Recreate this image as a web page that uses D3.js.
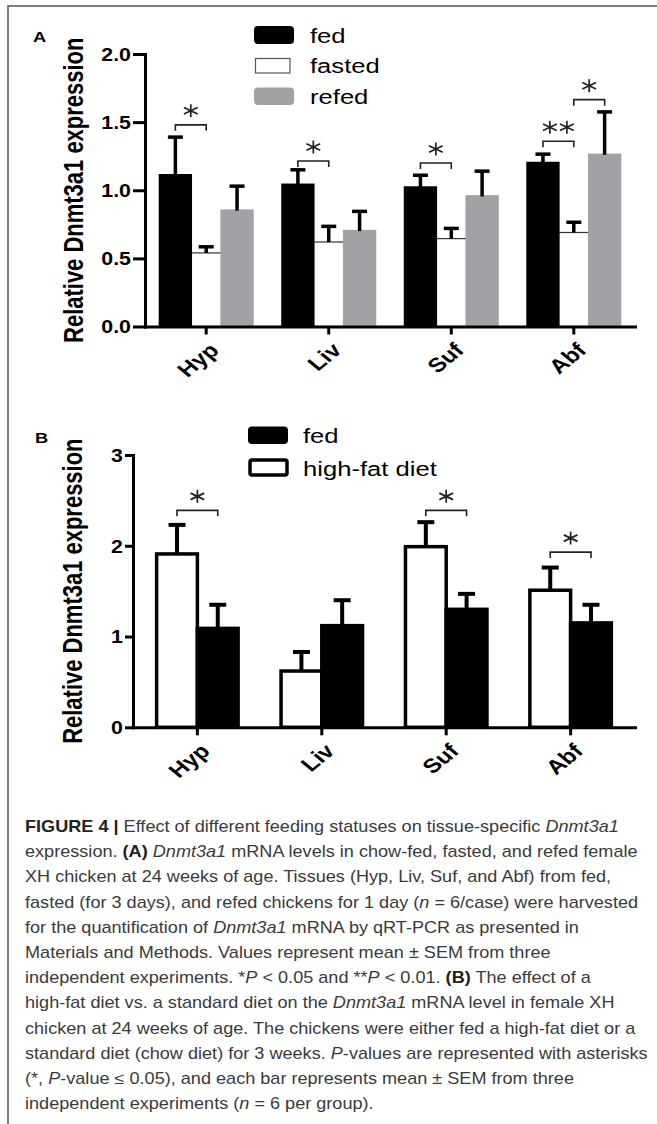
<!DOCTYPE html>
<html>
<head>
<meta charset="utf-8">
<script src="https://cdn.jsdelivr.net/npm/d3@7"></script>
<style>
  body { margin: 0; background: #fff; }
  svg { display: block; }
</style>
</head>
<body>
<div id="chart"></div>
<script>
// ---- data ----
const tissues = ["Hyp", "Liv", "Suf", "Abf"];

// panel A: fed / fasted / refed
const seriesA = ["fed", "fasted", "refed"];
const fedA = [1.11, 1.04, 1.02, 1.20];
const fedASem = [0.28, 0.11, 0.09, 0.065];
const fastedA = [0.54, 0.62, 0.645, 0.69];
const fastedASem = [0.045, 0.115, 0.075, 0.075];
const refedA = [0.85, 0.70, 0.955, 1.26];
const refedASem = [0.18, 0.145, 0.185, 0.315];
const ticksA = [0, 0.5, 1.0, 1.5, 2.0];
// brackets: tissue, bar index from/to, height (data units), stars
const sigA = [
  ["Hyp", 0, 1, 1.48, 1],
  ["Liv", 0, 1, 1.215, 1],
  ["Suf", 0, 1, 1.20, 1],
  ["Abf", 0, 1, 1.36, 2],
  ["Abf", 1, 2, 1.665, 1]
];

// panel B: legend order is fed / high-fat diet, bars drawn white first
const legendB = ["fed", "high-fat diet"];
const hfdB = [1.91, 0.62, 1.99, 1.51];
const hfdBSem = [0.32, 0.21, 0.27, 0.25];
const fedB = [1.09, 1.12, 1.30, 1.15];
const fedBSem = [0.26, 0.28, 0.17, 0.20];
const ticksB = [0, 1, 2, 3];
const sigB = [
  ["Hyp", 0, 1, 2.39, 1],
  ["Suf", 0, 1, 2.39, 1],
  ["Abf", 0, 1, 1.93, 1]
];

const W = 657, H = 1124;
const SX = 1.22;   // the chart image is a bit stretched sideways
const chartFont = "'Liberation Sans', Arial, Helvetica, sans-serif";

const svg = d3.select("#chart").append("svg")
    .attr("width", W)
    .attr("height", H);

svg.append("rect").attr("width", W).attr("height", H).attr("fill", "#fff");

// frame of the figure
svg.append("path")
    .attr("d", "M8," + H + "V6H" + W)
    .attr("fill", "none")
    .attr("stroke", "#555")
    .attr("stroke-width", 1.5);

// text squeezed/stretched like the picture
function sText(g, x, y, str, size, weight, anchor, rot) {
    return g.append("text")
        .attr("transform", "translate(" + x + "," + y + ") scale(" + SX + ",1)" + (rot ? " rotate(" + rot + ")" : ""))
        .attr("text-anchor", anchor || "start")
        .style("font-family", chartFont)
        .style("font-size", size + "px")
        .style("font-weight", weight || "normal")
        .attr("fill", "#000")
        .text(str);
}

function asterisk(g, cx, cy) {
    let r = 6.5, d = "";
    [90, 30, 150].forEach(function(a) {
        let dx = r * Math.cos(a * Math.PI / 180) * SX;
        let dy = r * Math.sin(a * Math.PI / 180);
        d += "M" + (cx - dx) + "," + (cy - dy) + "L" + (cx + dx) + "," + (cy + dy);
    });
    g.append("path").attr("d", d)
        .attr("stroke", "#222")
        .attr("stroke-width", 1.7)
        .attr("fill", "none");
}

function drawPanel(o) {
    let g = svg.append("g");

    let y = d3.scaleLinear()
        .domain([0, o.yMax])
        .range([o.bottom, o.top]);

    let x = d3.scaleBand()
        .domain(tissues)
        .range([o.left, o.right])
        .paddingInner(o.padIn)
        .paddingOuter(o.padOut);

    let xs = d3.scaleBand()
        .domain(d3.range(o.series.length))
        .range([0, x.bandwidth()]);

    // bars, white ones first so the dark edges sit on top
    let order = d3.range(o.series.length).sort(function(a, b) {
        return (o.series[a].fill === "#fff" ? 0 : 1) - (o.series[b].fill === "#fff" ? 0 : 1);
    });
    order.forEach(function(si) {
        let s = o.series[si];
        g.selectAll(".bar" + si)
            .data(tissues)
            .enter()
            .append("rect")
            .attr("x", function(d) { return x(d) + xs(si); })
            .attr("y", function(d, i) { return y(s.values[i]); })
            .attr("width", xs.bandwidth())
            .attr("height", function(d, i) { return y(0) - y(s.values[i]); })
            .attr("fill", s.fill)
            .attr("stroke", s.stroke)
            .attr("stroke-width", s.strokeWidth);
    });

    // error bars (upper only)
    o.series.forEach(function(s, si) {
        tissues.forEach(function(t, i) {
            let cx = x(t) + xs(si) + xs.bandwidth() / 2;
            let top = y(s.values[i] + s.sem[i]);
            g.append("line")
                .attr("x1", cx).attr("x2", cx)
                .attr("y1", y(s.values[i])).attr("y2", top)
                .attr("stroke", "#000").attr("stroke-width", o.errW);
            g.append("line")
                .attr("x1", cx - o.capW / 2).attr("x2", cx + o.capW / 2)
                .attr("y1", top).attr("y2", top)
                .attr("stroke", "#000").attr("stroke-width", o.errW);
        });
    });

    // y axis
    let ya = g.append("g")
        .attr("transform", "translate(" + o.left + ",0)")
        .call(d3.axisLeft(y).tickValues(o.yTicks).tickFormat(o.fmt).tickSize(o.tickLen).tickSizeOuter(0));
    ya.select(".domain").attr("stroke-width", 3).attr("stroke-linecap", "square");
    ya.selectAll(".tick line").attr("stroke-width", 3);
    ya.selectAll(".tick text")
        .attr("x", null).attr("dy", null)
        .attr("transform", "translate(" + (-o.tickLen - 2) + ",6.3) scale(" + SX + ",1)")
        .style("font-family", chartFont)
        .style("font-size", "17.5px")
        .style("font-weight", "bold")
        .attr("fill", "#000");

    // x axis
    let xa = g.append("g")
        .attr("transform", "translate(0," + y(0) + ")")
        .call(d3.axisBottom(x).tickSize(8).tickSizeOuter(0));
    xa.select(".domain").attr("stroke-width", 3).attr("stroke-linecap", "square");
    xa.selectAll(".tick line").attr("stroke-width", 3);
    xa.selectAll(".tick text")
        .attr("y", null).attr("dy", null)
        .attr("text-anchor", "end")
        .attr("transform", "translate(14,25) scale(" + SX + ",1) rotate(-45)")
        .style("font-family", chartFont)
        .style("font-size", "20px")
        .style("font-weight", "bold")
        .attr("fill", "#000");

    // y title
    sText(g, o.titleX, (o.top + o.bottom) / 2 + o.titleDy, "Relative Dnmt3a1 expression", 22, "bold", "middle", -90);

    // significance brackets
    o.sig.forEach(function(b) {
        let x1 = x(b[0]) + xs(b[1]) + xs.bandwidth() / 2;
        let x2 = x(b[0]) + xs(b[2]) + xs.bandwidth() / 2;
        let by = y(b[3]);
        g.append("path")
            .attr("d", "M" + x1 + "," + (by + 6) + "V" + by + "H" + x2 + "V" + (by + 6))
            .attr("fill", "none")
            .attr("stroke", "#222")
            .attr("stroke-width", 1.6);
        let mid = (x1 + x2) / 2;
        if (b[4] === 1) asterisk(g, mid, by - 14);
        else { asterisk(g, mid - 8.5, by - 14); asterisk(g, mid + 8.5, by - 14); }
    });

    return g;
}

// ---- panel A ----
const gA = drawPanel({
    top: 54, bottom: 326.5, left: 145, right: 635,
    yMax: 2.0, yTicks: ticksA, fmt: d3.format(".1f"),
    padIn: 0.245, padOut: 0.122,
    tickLen: 12, errW: 3.5, capW: 15,
    titleX: 83, titleDy: 0,
    series: [
        { values: fedA, sem: fedASem, fill: "#000", stroke: "#000", strokeWidth: 2.5 },
        { values: fastedA, sem: fastedASem, fill: "#fff", stroke: "#333", strokeWidth: 1.2 },
        { values: refedA, sem: refedASem, fill: "#a2a2a6", stroke: "#a2a2a6", strokeWidth: 2.5 }
    ],
    sig: sigA
});

// legend A
const legA = svg.append("g");
legA.append("rect").attr("x", 254).attr("y", 26).attr("width", 40).attr("height", 18).attr("rx", 4).attr("fill", "#000");
legA.append("rect").attr("x", 255.5).attr("y", 58.5).attr("width", 34.5).attr("height", 14.5).attr("fill", "#fff").attr("stroke", "#555").attr("stroke-width", 1.2);
legA.append("rect").attr("x", 254).attr("y", 87.5).attr("width", 40).attr("height", 17.5).attr("rx", 4).attr("fill", "#a2a2a6");
[42.5, 72.5, 103.5].forEach(function(by, i) {
    sText(legA, 310, by, seriesA[i], 21);
});
sText(svg, 33, 41.7, "A", 15, "bold");

// ---- panel B ----
const gB = drawPanel({
    top: 455, bottom: 727.3, left: 133, right: 635,
    yMax: 3, yTicks: ticksB, fmt: d3.format("d"),
    padIn: 0.345, padOut: 0.19,
    tickLen: 8, errW: 4, capW: 17,
    titleX: 81.7, titleDy: 0,
    series: [
        { values: hfdB, sem: hfdBSem, fill: "#fff", stroke: "#000", strokeWidth: 3.5 },
        { values: fedB, sem: fedBSem, fill: "#000", stroke: "#000", strokeWidth: 3.5 }
    ],
    sig: sigB
});

// legend B
const legBg = svg.append("g");
legBg.append("rect").attr("x", 248).attr("y", 426.5).attr("width", 40).attr("height", 17.5).attr("rx", 4).attr("fill", "#000");
legBg.append("rect").attr("x", 250).attr("y", 460).attr("width", 37).attr("height", 15).attr("rx", 2).attr("fill", "#fff").attr("stroke", "#000").attr("stroke-width", 3.5);
[442.5, 476].forEach(function(by, i) {
    sText(legBg, 303, by, legendB[i], 21);
});
sText(svg, 35, 443, "B", 15, "bold");

// ---- caption ----
const capLines = [
    [["FIGURE 4 | ", "b"], ["Effect of different feeding statuses on tissue-specific "], ["Dnmt3a1", "i"]],
    [["expression. "], ["(A)", "b"], [" "], ["Dnmt3a1", "i"], [" mRNA levels in chow-fed, fasted, and refed female"]],
    [["XH chicken at 24 weeks of age. Tissues (Hyp, Liv, Suf, and Abf) from fed,"]],
    [["fasted (for 3 days), and refed chickens for 1 day ("], ["n", "i"], [" = 6/case) were harvested"]],
    [["for the quantification of "], ["Dnmt3a1", "i"], [" mRNA by qRT-PCR as presented in"]],
    [["Materials and Methods. Values represent mean \u00b1 SEM from three"]],
    [["independent experiments. *"], ["P", "i"], [" < 0.05 and **"], ["P", "i"], [" < 0.01. "], ["(B)", "b"], [" The effect of a"]],
    [["high-fat diet vs. a standard diet on the "], ["Dnmt3a1", "i"], [" mRNA level in female XH"]],
    [["chicken at 24 weeks of age. The chickens were either fed a high-fat diet or a"]],
    [["standard diet (chow diet) for 3 weeks. "], ["P", "i"], ["-values are represented with asterisks"]],
    [["(*, "], ["P", "i"], ["-value \u2264 0.05), and each bar represents mean \u00b1 SEM from three"]],
    [["independent experiments ("], ["n", "i"], [" = 6 per group)."]]
];

const cap = svg.append("g").attr("transform", "translate(25,0)");
const capText = [];
capLines.forEach(function(line, li) {
    let t = cap.append("text")
        .attr("x", 0)
        .attr("y", 832 + li * 25.2)
        .style("font-family", chartFont)
        .style("font-size", "16px")
        .attr("fill", "#3a3a3a");
    line.forEach(function(seg) {
        let sp = t.append("tspan").text(seg[0]);
        if (seg[1] === "b") sp.style("font-weight", "bold").attr("fill", "#222");
        if (seg[1] === "i") sp.style("font-style", "italic");
    });
    capText.push(t);
});
// fit the first line to the width seen in the picture
const w0 = capText[0].node().getComputedTextLength();
const k = 594 / w0;
cap.attr("transform", "translate(25,0) scale(" + k + ",1)");
</script>
</body>
</html>
